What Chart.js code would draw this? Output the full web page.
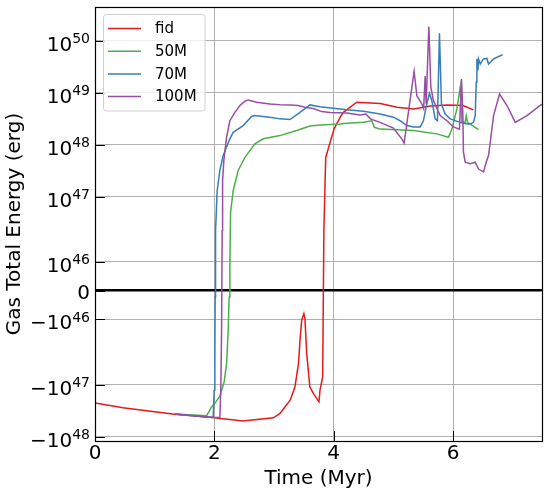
<!DOCTYPE html>
<html>
<head>
<meta charset="utf-8">
<script src="https://cdn.jsdelivr.net/npm/chart.js@4.4.1/dist/chart.umd.min.js"></script>
<style>
  html, body { margin: 0; padding: 0; background: #fff; }
  #wrap { width: 548px; height: 494px; }
</style>
</head>
<body>
<div id="wrap"><canvas id="chart" width="548" height="494"></canvas></div>
<script>
// --- data (time in Myr, energy in erg) ---
const seriesNames = ['fid', '50M', '70M', '100M'];
const seriesColors = ['#e41a1c', '#4daf4a', '#377eb8', '#984ea3'];

const fidTime = [0, 0.47, 1.0, 1.37, 1.98, 2.09, 2.26, 2.48, 2.99, 3.10, 3.27, 3.35, 3.41, 3.435, 3.463, 3.50, 3.518, 3.547, 3.60, 3.658, 3.753, 3.77, 3.815, 3.835, 3.866, 3.938, 4.005, 4.109, 4.161, 4.386, 4.78, 5.06, 5.34, 5.62, 5.9, 6.17, 6.34];
const fidEnergy = [-2.25e47, -2.8e47, -3.35e47, -3.76e47, -4.29e47, -4.49e47, -4.69e47, -5.05e47, -4.37e47, -3.59e47, -2.0e47, -1.11e47, -3.9e46, -1.72e46, -1.03e46, -7.96e45, -9.7e45, -2.52e46, -1.11e47, -1.48e47, -2.15e47, -1.28e47, -7.1e46, 2.2e46, 5.7e47, 1.1e48, 2.0e48, 3.4e48, 4.2e48, 6.6e48, 6.2e48, 5.3e48, 4.9e48, 5.6e48, 5.8e48, 5.7e48, 4.7e48];

const m50Time = [1.34, 1.869, 1.953, 2.008, 2.092, 2.164, 2.205, 2.232, 2.248, 2.26, 2.272, 2.315, 2.399, 2.512, 2.679, 2.819, 3.099, 3.379, 3.602, 3.77, 4.106, 4.218, 4.497, 4.638, 4.681, 4.777, 5.057, 5.336, 5.448, 5.728, 5.923, 5.98, 6.064, 6.119, 6.148, 6.203, 6.22, 6.242, 6.426];
const m50Energy = [-3.7e47, -4.0e47, -2.7e47, -2.3e47, -1.67e47, -8.9e46, -3.9e46, -1.37e46, -2.2e45, 9.3e45, 5.0e46, 1.3e47, 3.2e47, 5.7e47, 1.04e48, 1.3e48, 1.5e48, 1.88e48, 2.3e48, 2.4e48, 2.5e48, 2.6e48, 2.7e48, 2.9e48, 2.17e48, 2.0e48, 1.95e48, 1.88e48, 1.8e48, 1.62e48, 1.39e48, 2.0e48, 4.9e48, 1.27e49, 2.7e48, 2.7e48, 3.6e48, 2.7e48, 1.95e48];

const m70Time = [1.34, 1.953, 1.98, 1.997, 2.008, 2.013, 2.02, 2.047, 2.092, 2.148, 2.26, 2.315, 2.483, 2.624, 2.68, 2.987, 3.099, 3.267, 3.435, 3.602, 3.77, 4.106, 4.218, 4.497, 4.777, 5.0, 5.112, 5.225, 5.336, 5.448, 5.503, 5.56, 5.604, 5.644, 5.7, 5.738, 5.772, 5.805, 5.867, 5.951, 6.119, 6.232, 6.287, 6.342, 6.371, 6.388, 6.399, 6.416, 6.426, 6.455, 6.51, 6.567, 6.594, 6.678, 6.829];
const m70Energy = [-3.7e47, -4.3e47, -4.2e47, -1.28e47, -3.9e46, -2.2e45, 2.2e46, 1.3e47, 3.2e47, 6.2e47, 1.3e48, 1.74e48, 2.34e48, 3.5e48, 3.65e48, 3.3e48, 3.15e48, 3.05e48, 4.2e48, 5.85e48, 5.4e48, 4.9e48, 4.7e48, 4.4e48, 3.9e48, 3.4e48, 2.9e48, 2.34e48, 2.2e48, 2.2e48, 2.9e48, 6.1e48, 9.8e48, 7.1e48, 3.15e48, 2.9e48, 1.4e50, 6.1e48, 3.9e48, 3.15e48, 2.7e48, 2.5e48, 2.5e48, 2.7e48, 3.65e48, 1.6e49, 4.5e49, 2.7e49, 4.5e49, 3.6e49, 4.5e49, 4.6e49, 3.6e49, 4.5e49, 5.4e49];

const m100Time = [1.34, 1.98, 2.092, 2.109, 2.121, 2.131, 2.138, 2.159, 2.205, 2.26, 2.344, 2.428, 2.512, 2.567, 2.708, 2.931, 3.099, 3.267, 3.406, 3.518, 3.658, 3.799, 3.938, 4.218, 4.441, 4.54, 4.614, 4.777, 5.0, 5.141, 5.18, 5.347, 5.393, 5.477, 5.507, 5.532, 5.549, 5.594, 5.627, 5.671, 5.784, 5.896, 6.007, 6.107, 6.141, 6.164, 6.174, 6.203, 6.287, 6.371, 6.426, 6.51, 6.555, 6.594, 6.622, 6.678, 6.779, 6.903, 7.042, 7.238, 7.49];
const m100Energy = [-3.7e47, -4.3e47, -4.3e47, -1.1e47, -1.37e46, 2.2e46, 2.0e47, 5.0e47, 1.4e48, 2.9e48, 4.2e48, 5.7e48, 6.9e48, 7.3e48, 6.6e48, 6.1e48, 5.9e48, 5.85e48, 5.7e48, 5.3e48, 5.0e48, 4.35e48, 4.2e48, 4.1e48, 3.75e48, 3.9e48, 3.15e48, 2.7e48, 2.1e48, 1.3e48, 1.07e48, 2.6e49, 8.8e48, 6.1e48, 5.0e48, 2.1e49, 6.1e48, 1.9e50, 1.28e49, 7.1e48, 3.65e48, 2.9e48, 2.2e48, 2.0e48, 1.85e49, 3.65e48, 7.2e47, 4.6e47, 4.3e47, 4.6e47, 3.4e47, 3.0e47, 4.6e47, 6.2e47, 1.1e48, 3.65e48, 9.5e48, 5.7e48, 2.7e48, 3.65e48, 6.1e48];

const xTicks = [0, 2, 4, 6];
const yTicks = [-1e48, -1e47, -1e46, 0, 1e46, 1e47, 1e48, 1e49, 1e50];
// tick label = base with exponent as superscript
const yTickBase = ['\u221210', '\u221210', '\u221210', '0', '10', '10', '10', '10', '10'];
const yTickExp = ['48', '47', '46', '', '46', '47', '48', '49', '50'];

// --- symlog axis (linthresh 2e46, linscale 1, base 10) ---
const LINTHRESH = 2e46;
const LINSCALE = 1 / (1 - 1 / 10);

function symlog(v) {
    const a = Math.abs(v);
    const t = a <= LINTHRESH ? a / LINTHRESH * LINSCALE : LINSCALE + Math.log10(a / LINTHRESH);
    return v < 0 ? -t : t;
}
function symexp(t) {
    const a = Math.abs(t);
    const v = a <= LINSCALE ? a / LINSCALE * LINTHRESH : LINTHRESH * Math.pow(10, a - LINSCALE);
    return t < 0 ? -v : v;
}

class SymlogScale extends Chart.LinearScale {
    buildTicks() {
        this.start = this.min;
        this.end = this.max;
        return yTicks.map(v => ({value: v}));
    }
    configure() {
        super.configure();
        this._tMin = symlog(this.min);
        this._tRange = symlog(this.max) - this._tMin;
    }
    getPixelForValue(v) {
        return this.getPixelForDecimal((symlog(v) - this._tMin) / this._tRange);
    }
    getValueForPixel(p) {
        return symexp(this._tMin + this.getDecimalForPixel(p) * this._tRange);
    }
}
SymlogScale.id = 'symlog';
SymlogScale.defaults = Chart.LinearScale.defaults;
Chart.register(SymlogScale);

// frame, inward ticks, y tick labels with superscripts and a matplotlib-like legend
const framePlugin = {
    id: 'framePlugin',
    afterDatasetsDraw(chart) {
        const {ctx, chartArea: a, scales} = chart;
        ctx.save();
        ctx.strokeStyle = '#000';
        ctx.lineWidth = 1;
        ctx.beginPath();
        scales.y.ticks.forEach(t => {
            const py = Math.round(scales.y.getPixelForValue(t.value)) + 0.5;
            ctx.moveTo(a.left, py);
            ctx.lineTo(a.left + 10, py);
        });
        scales.x.ticks.forEach(t => {
            const px = Math.round(scales.x.getPixelForValue(t.value)) + 0.5;
            ctx.moveTo(px, a.bottom);
            ctx.lineTo(px, a.bottom - 10);
        });
        ctx.stroke();
        ctx.lineWidth = 1.2;
        ctx.strokeRect(Math.round(a.left) + 0.5, Math.round(a.top) + 0.5, Math.round(a.right - a.left), Math.round(a.bottom - a.top));

        // y tick labels
        ctx.fillStyle = '#000';
        ctx.textAlign = 'right';
        ctx.textBaseline = 'alphabetic';
        const rightX = a.left - 5;
        yTicks.forEach((v, i) => {
            const py = scales.y.getPixelForValue(v);
            if (yTickExp[i]) {
                ctx.font = '14px "DejaVu Sans"';
                const ew = ctx.measureText(yTickExp[i]).width;
                ctx.fillText(yTickExp[i], rightX, py + 2.4);
                ctx.font = '20px "DejaVu Sans"';
                ctx.fillText(yTickBase[i], rightX - ew, py + 10);
            } else {
                ctx.font = '20px "DejaVu Sans"';
                ctx.fillText(yTickBase[i], rightX, py + 8);
            }
        });

        // legend
        const lx = 103.5, ly = 14.5, lw = 101.5, lh = 96.5, r = 3;
        ctx.beginPath();
        ctx.moveTo(lx + r, ly);
        ctx.arcTo(lx + lw, ly, lx + lw, ly + lh, r);
        ctx.arcTo(lx + lw, ly + lh, lx, ly + lh, r);
        ctx.arcTo(lx, ly + lh, lx, ly, r);
        ctx.arcTo(lx, ly, lx + lw, ly, r);
        ctx.closePath();
        ctx.fillStyle = 'rgba(255,255,255,0.8)';
        ctx.fill();
        ctx.strokeStyle = '#d0d0d0';
        ctx.lineWidth = 1;
        ctx.stroke();
        ctx.font = '15px "DejaVu Sans"';
        ctx.textBaseline = 'middle';
        ctx.textAlign = 'left';
        chart.data.datasets.forEach((ds, i) => {
            const rowY = 28.5 + i * 22.7;
            ctx.strokeStyle = ds.borderColor;
            ctx.lineWidth = 1.5;
            ctx.beginPath();
            ctx.moveTo(108, rowY);
            ctx.lineTo(141, rowY);
            ctx.stroke();
            ctx.fillStyle = '#000';
            ctx.fillText(ds.label, 155, rowY + 1);
        });
        ctx.restore();
    }
};

const times = [fidTime, m50Time, m70Time, m100Time];
const energies = [fidEnergy, m50Energy, m70Energy, m100Energy];

Chart.defaults.font.family = '"DejaVu Sans", sans-serif';
Chart.defaults.color = '#000';

new Chart(document.getElementById('chart').getContext('2d'), {
    type: 'line',
    data: {
        datasets: seriesNames.map((name, i) => ({
            label: name,
            data: times[i].map((t, j) => ({x: t, y: energies[i][j]})),
            borderColor: seriesColors[i],
            backgroundColor: seriesColors[i],
            borderWidth: 1.5,
            pointRadius: 0,
            tension: 0,
            fill: false,
            order: seriesNames.length - i
        }))
    },
    options: {
        responsive: false,
        animation: false,
        layout: {padding: {top: 7, right: 6, left: 0, bottom: 0}},
        plugins: {legend: {display: false}, tooltip: {enabled: false}},
        scales: {
            x: {
                type: 'linear',
                min: 0,
                max: 7.49,
                afterBuildTicks: s => { s.ticks = xTicks.map(v => ({value: v})); },
                afterFit: s => { s.height = 53; s.paddingLeft = 0; s.paddingRight = 0; },
                border: {display: false},
                grid: {color: '#b0b0b0', lineWidth: 1, drawTicks: false},
                ticks: {padding: 1, font: {size: 20}, maxRotation: 0, autoSkip: false},
                title: {display: true, text: 'Time (Myr)', font: {size: 20}, padding: {top: 0, bottom: 3}}
            },
            y: {
                type: 'symlog',
                min: -1.22e48,
                max: 4.5e50,
                afterFit: s => { s.width = 95; s.paddingTop = 0; s.paddingBottom = 0; },
                border: {display: false},
                grid: {
                    color: c => (c.tick && c.tick.value === 0 ? '#000' : '#b0b0b0'),
                    lineWidth: c => (c.tick && c.tick.value === 0 ? 2.5 : 1),
                    drawTicks: false
                },
                ticks: {display: false, autoSkip: false},
                title: {display: true, text: 'Gas Total Energy (erg)', font: {size: 20}, padding: {top: 3, bottom: 0}}
            }
        }
    },
    plugins: [framePlugin]
});
</script>
</body>
</html>
